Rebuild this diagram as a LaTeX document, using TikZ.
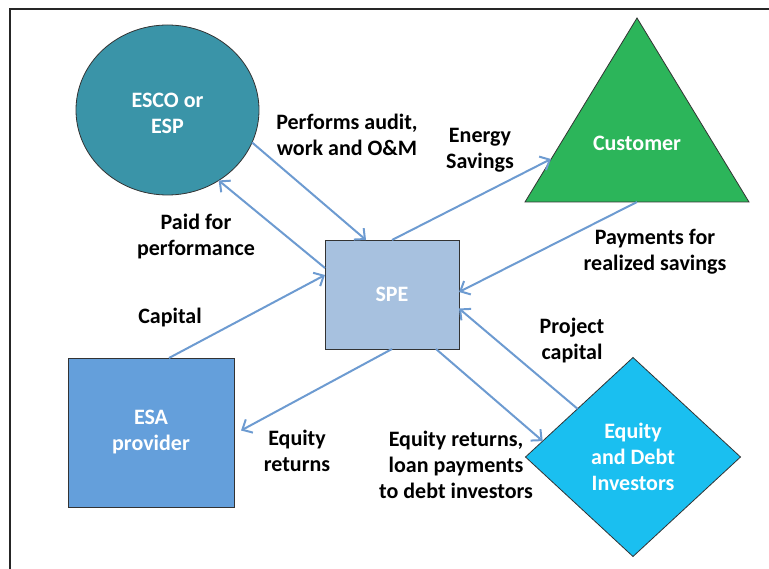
\documentclass[tikz,border=0pt]{standalone}
\usepackage{fontspec}
\setmainfont{Carlito}
\usetikzlibrary{shapes.geometric,arrows.meta}
\definecolor{escoC}{HTML}{3A94A8}
\definecolor{custC}{HTML}{2CB55A}
\definecolor{speC}{HTML}{A7C1DF}
\definecolor{esaC}{HTML}{649FDB}
\definecolor{invC}{HTML}{1ABFF0}
\definecolor{arrC}{HTML}{6D9BD1}
\tikzset{
  shapebox/.style={draw=black!80, line width=0.8pt, inner sep=0pt, outer sep=0pt,
    font=\fontsize{22}{26}\selectfont\bfseries, text=white, align=center},
  lbl/.style={font=\fontsize{22}{26}\selectfont\bfseries, text=black, align=center, inner sep=0pt},
  flow/.style={draw=arrC, line width=2pt, -{Straight Barb[length=8pt,width=15pt,line width=2pt]}}
}
\begin{document}
\begin{tikzpicture}[x=1pt,y=-1pt]
\useasboundingbox (0,0) rectangle (769,569);
\draw[line width=2pt, black!85] (10,569) -- (10,9) -- (769,9);

% shapes
\node[shapebox, ellipse, fill=escoC, minimum width=183pt, minimum height=170pt] (esco) at (167.5,110) {};
\node[font=\fontsize{22}{26}\selectfont\bfseries, text=white, align=center] (escot) at (167.5,113) {ESCO or\\ESP};
\fill[custC, draw=black!80, line width=0.8pt] (525,202) -- (637,18) -- (749,202) -- cycle;
\coordinate (custbase) at (637,202);
\coordinate (custleft) at (551,159);
\node[font=\fontsize{22}{26}\selectfont\bfseries, text=white] (cust) at (637,143) {Customer};
\node[shapebox, rectangle, fill=speC, minimum width=134pt, minimum height=109pt] (spe) at (392,294.5) {SPE};
\node[shapebox, rectangle, fill=esaC, minimum width=166pt, minimum height=149pt] (esa) at (151,432.5) {ESA\\provider};
\node[shapebox, diamond, fill=invC, minimum width=215pt, minimum height=199pt] (inv) at (633,457) {Equity\\and Debt\\Investors};

% connectors
\draw[flow] (esco.-21.6) -- ([xshift=-26pt]spe.north);
\draw[flow] ([yshift=26.5pt]spe.west) -- (esco.-54);
\draw[flow] (spe.north) -- (custleft);
\draw[flow] (custbase) -- ([yshift=2.5pt]spe.east);
\draw[flow] ([xshift=18pt]esa.north) -- ([yshift=19.5pt]spe.west);
\draw[flow] (inv.139.4) -- ([yshift=-14pt]spe.east);
\draw[flow] ([xshift=44pt]spe.south) -- (inv.170.6);
\draw[flow, shorten >=8pt] (spe.south) -- ([yshift=-1.8pt]esa.east);

% labels
\node[lbl] (l1) at (347,134.5) {Performs audit,\\work and O\&M};
\node[lbl] (l2) at (480,150.5) {Energy\\Savings};
\node[lbl] (l3) at (196,237) {Paid for\\performance};
\node[lbl] (l4) at (655,252) {Payments for\\realized savings};
\node[lbl] (l5) at (170,318) {Capital};
\node[lbl] (l6) at (572,340.5) {Project\\capital};
\node[lbl] (l7) at (297,450.5) {Equity\\returns};
\node[lbl] (l8) at (456,464.5) {Equity returns,\\loan payments\\to debt investors};
\end{tikzpicture}
\end{document}
